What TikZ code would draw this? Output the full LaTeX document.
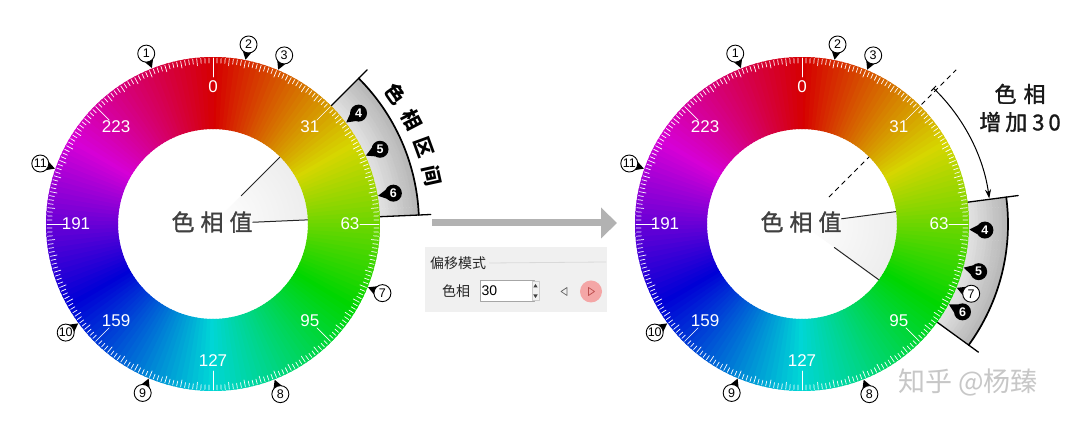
\documentclass[tikz,border=0pt]{standalone}
\usepackage{fontspec}
\setmainfont{Liberation Sans}
\newfontfamily\cjk{Noto Sans CJK SC}
\newfontfamily\cjkmid[FakeBold=1.2]{Noto Sans CJK SC}
\usetikzlibrary{arrows.meta}

\definecolor{panelbg}{RGB}{240,240,240}
\definecolor{pinkbtn}{RGB}{244,166,166}
\definecolor{pinkmark}{RGB}{190,80,80}

\tikzset{
  hue num/.style={text=white, font=\fontsize{17}{17}\selectfont},
  open mark/.style={circle, draw=black, line width=0.9pt, fill=white, minimum size=17pt, inner sep=0pt, font=\fontsize{12.5}{12.5}\selectfont},
  full mark/.style={circle, fill=black, text=white, minimum size=17pt, inner sep=0pt, font=\bfseries\fontsize{12.5}{12.5}\selectfont},
  edge line/.style={black, line width=1.3pt},
  range text/.style={font=\cjk\bfseries\fontsize{20}{20}\selectfont},
  ui text/.style={font=\cjk\fontsize{14}{14}\selectfont, text=black!85},
}

\begin{document}
\begin{tikzpicture}[x=1pt, y=1pt, line cap=round, line join=round]

% Canvas
\fill[white] (0,0) rectangle (1080,428);
\useasboundingbox (0,0) rectangle (1080,428);

% Centers of the two hue wheels
\coordinate (L) at (213,204);
\coordinate (R) at (802,204);

% Shaded wedge inside the hole, between the two range lines
\foreach \c/\a/\b in {L/45/2.5, R/7.5/-36} {
  \begin{scope}[shift={(\c)}]
    \begin{scope}
      \clip (0,0) -- (\a:95) arc[start angle=\a, end angle=\b, radius=95] -- cycle;
      \shade[inner color=white, outer color=black!14] (0,0) circle (190);
    \end{scope}
    \draw[black!85, line width=1pt] (\a:40) -- (\a:95);
    \draw[black!85, line width=1pt] (\b:40) -- (\b:95);
  \end{scope}
}

% Gray hue range outside the ring
\foreach \c/\a/\b in {L/45/2.5, R/7.5/-36} {
  \begin{scope}[shift={(\c)}]
    \foreach \i in {0,...,12} {
      \pgfmathsetmacro{\ri}{167+3*\i}
      \pgfmathsetmacro{\ro}{\ri+3.4}
      \pgfmathtruncatemacro{\gv}{12+1.4*\i}
      \fill[black!\gv] (\a:\ri) arc[start angle=\a, end angle=\b, radius=\ri]
        -- (\b:\ro) arc[start angle=\b, end angle=\a, radius=\ro] -- cycle;
    }
    \draw[edge line] (\a:167) -- (\a:218);
    \draw[edge line] (\b:167) -- (\b:218);
    \draw[black, line width=1.7pt] (\a:206) arc[start angle=\a, end angle=\b, radius=206];
  \end{scope}
}

% Hue wheels: coloured ring, ticks, values and title
\foreach \c in {L,R} {
  \begin{scope}[shift={(\c)}]
    \foreach \h in {0,2,...,358} {
      \definecolor{huecol}{Hsb}{\h,1,0.84}
      \pgfmathsetmacro{\sa}{90.4-\h}
      \pgfmathsetmacro{\ea}{87.6-\h}
      \fill[huecol] (\sa:95) arc[start angle=\sa, end angle=\ea, radius=95]
        -- (\ea:167) arc[start angle=\ea, end angle=\sa, radius=167] -- cycle;
    }
    \foreach \k in {0,...,255} {
      \pgfmathsetmacro{\ta}{90-\k*1.40625}
      \pgfmathsetmacro{\tl}{ifthenelse(mod(\k,32)==0, 19, ifthenelse(mod(\k,4)==0, 7, 5))}
      \draw[white, line width=0.7pt] (\ta:166) -- (\ta:{166-\tl});
    }
    \foreach \v [count=\i from 0] in {0,31,63,95,127,159,191,223} {
      \node[hue num] (v\c\v) at ({90-45*\i}:137) {\v};
    }
    \node[font=\cjkmid\fontsize{23}{23}\selectfont, text=black!75] (title\c) at (-1,2) {色\hspace{6pt}相\hspace{6pt}值};
  \end{scope}
}

% Numbered markers round the rings
\foreach \c/\n/\a/\s in {
  L/1/111.4/open mark, L/2/78.8/open mark, L/3/67.1/open mark,
  L/4/37.3/full mark, L/5/24.1/full mark, L/6/9.7/full mark,
  L/7/-22.2/open mark, L/8/-68.4/open mark, L/9/-112.6/open mark,
  L/10/216.4/open mark, L/11/160.7/open mark,
  R/1/111.4/open mark, R/2/78.8/open mark, R/3/67.1/open mark,
  R/4/-1.9/full mark, R/5/-15.1/full mark, R/6/-28.7/full mark,
  R/7/-22.4/open mark, R/8/-68.4/open mark, R/9/-112.6/open mark,
  R/10/216.4/open mark, R/11/160.7/open mark} {
  \begin{scope}[shift={(\c)}]
    \fill[black] ({\a+1.5}:176) -- (\a:167.5) -- ({\a-1.5}:176) -- cycle;
    \node[\s] (m\c\n) at (\a:183) {\n};
  \end{scope}
}

% Label of the hue range
\begin{scope}[shift={(L)}]
  \foreach \ch/\t [count=\i] in {色/35.4, 相/27.6, 区/20, 间/12.4} {
    \node[range text, rotate=\t-90] (range\i) at (\t:224) {\ch};
  }
\end{scope}

% Shift of the range by 30
\begin{scope}[shift={(R)}]
  \draw[dash pattern=on 5pt off 4pt, line width=1pt, line cap=butt] (45:38) -- (45:95);
  \draw[dash pattern=on 5pt off 4pt, line width=1pt, line cap=butt] (45:169) -- (45:218);
  \draw[line width=1pt, {Bar[width=7pt]}-{Stealth[length=9pt, width=6pt]}] (46:189) arc[start angle=46, end angle=7.8, radius=189];
\end{scope}
\node[font=\cjkmid\fontsize{22}{28}\selectfont, text=black!90, align=center] (shift) at (1020,320) {色\hspace{7pt}相\\增\hspace{4pt}加\hspace{5pt}3\hspace{4pt}0};

% Big gray arrow between the wheels
\coordinate (gs) at (432,205);
\coordinate (ge) at (617,205);
\draw[black!30, line width=7pt, line cap=butt, -{Triangle[length=16pt, width=30pt]}] (gs) -- (ge);

% Offset panel
\fill[panelbg] (425,116) rectangle (607,181);
\node[ui text, anchor=west, inner sep=0pt] (mode) at (430,165) {偏移模式};
\coordinate (sepend) at (606,166);
\draw[black!15, line width=0.8pt] ([xshift=3pt]mode.east) -- (sepend);
\node[ui text] (hue) at (456,136.5) {色相};
\node[draw=black!35, fill=white, minimum width=54pt, minimum height=21pt, inner sep=0pt, anchor=west] (box) at (480,137) {};
\node[anchor=west, font=\fontsize{14}{14}\selectfont, inner sep=1.5pt] (val) at (box.west) {30};
\node[draw=black!20, fill=black!5, minimum width=7pt, minimum height=19pt, inner sep=0pt] (spin) at (535.5,137) {};
\fill[black!75] (533.3,140.5) -- (537.7,140.5) -- (535.5,144) -- cycle;
\fill[black!75] (533.3,133.5) -- (537.7,133.5) -- (535.5,130) -- cycle;
\draw[black!60, line width=0.7pt] (567,140.5) -- (561,136.5) -- (567,132.5) -- cycle;
\node[circle, fill=pinkbtn, minimum size=22pt, inner sep=0pt] (next) at (591,136.5) {};
\draw[pinkmark, line width=0.7pt] (588.5,140.5) -- (594.5,136.5) -- (588.5,132.5) -- cycle;

% Watermark
\node[font=\cjk\fontsize{27}{27}\selectfont, text=black!22] (wm) at (968,46) {知乎 @杨臻};

\end{tikzpicture}
\end{document}
